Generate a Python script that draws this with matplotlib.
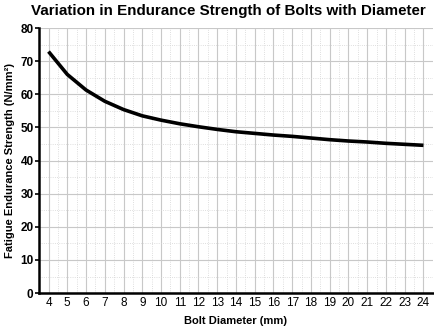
import numpy as np
import matplotlib
matplotlib.use('Agg')
import matplotlib.pyplot as plt
import matplotlib.ticker as ticker

plt.rcParams['font.family'] = ['Liberation Sans', 'DejaVu Sans']

# bolt diameter (mm) and fatigue endurance strength (N/mm^2)
diameter = [4, 5, 6, 7, 8, 9, 10, 11, 12, 13, 14, 15, 16, 17, 18, 19, 20, 21, 22, 23, 24]
strength = [72.9, 66.0, 61.3, 57.9, 55.4, 53.5, 52.2, 51.1, 50.2, 49.4, 48.7, 48.2,
            47.7, 47.3, 46.8, 46.3, 45.9, 45.6, 45.2, 44.9, 44.6]
x_ticks = list(range(4, 25))
y_ticks = [0, 10, 20, 30, 40, 50, 60, 70, 80]

fig = plt.figure(figsize=(4.35, 3.26), dpi=100)
ax = fig.add_axes([0.09, 0.101, 0.905, 0.813])

ax.plot(diameter, strength, color='black', linewidth=2.6,
        solid_joinstyle='round', solid_capstyle='butt', zorder=3)

ax.set_xlim(3.5, 24.5)
ax.set_ylim(0, 80)
ax.set_xticks(x_ticks)
ax.set_yticks(y_ticks)
ax.xaxis.set_minor_locator(ticker.MultipleLocator(0.5))
ax.yaxis.set_minor_locator(ticker.MultipleLocator(5))

ax.grid(True, which='major', color='#c8c8c8', linewidth=0.8)
ax.grid(True, which='minor', color='#d4d4d4', linewidth=0.6, linestyle=':')
ax.set_axisbelow(True)

for side in ('top', 'right'):
    ax.spines[side].set_visible(False)
for side in ('left', 'bottom'):
    ax.spines[side].set_linewidth(1.8)

ax.tick_params(axis='x', which='major', length=0, labelsize=8.5, pad=3)
ax.tick_params(axis='y', which='major', length=3, width=1.2, labelsize=8.5, pad=1)
ax.tick_params(axis='both', which='minor', length=0)
for lbl in ax.get_yticklabels():
    lbl.set_fontweight('bold')

ax.set_xlabel('Bolt Diameter (mm)', fontsize=8, fontweight='bold', labelpad=5)
ax.set_ylabel('Fatigue Endurance Strength (N/mm²)', fontsize=8, fontweight='bold', labelpad=4)
fig.suptitle('Variation in Endurance Strength of Bolts with Diameter',
             fontsize=10.9, fontweight='bold', x=0.525, y=0.987)

fig.savefig('out.png', dpi=100)
